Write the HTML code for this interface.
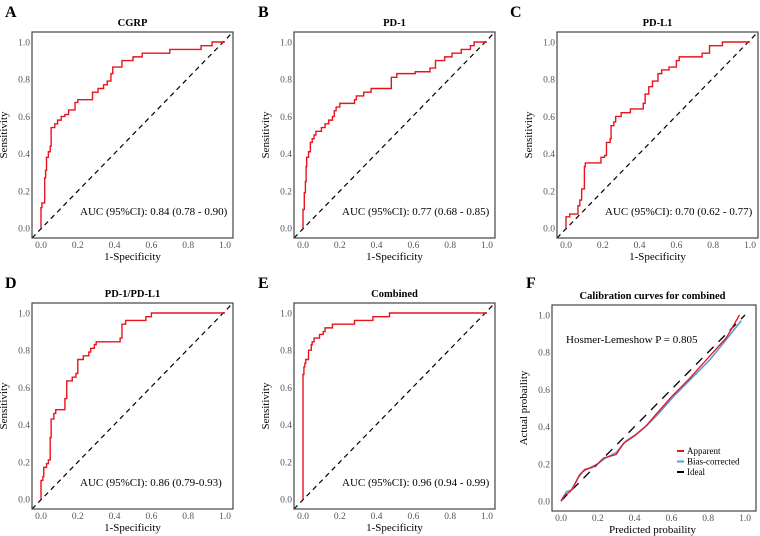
<!DOCTYPE html>
<html><head><meta charset="utf-8"><style>
body{margin:0;background:#fff;}
svg{display:block;font-family:"Liberation Serif",serif;}
</style></head><body>
<svg id="fig" width="760" height="536" viewBox="0 0 760 536" xmlns="http://www.w3.org/2000/svg"></svg>
<script>
const ticks = [0, 0.2, 0.4, 0.6, 0.8, 1.0];
const tickLabels = ["0.0","0.2","0.4","0.6","0.8","1.0"];
const cgrpFpr = [0,0,0.005,0.02,0.025,0.03,0.04,0.05,0.055,0.07,0.075,0.09,0.11,0.13,0.15,0.185,0.2,0.28,0.31,0.34,0.36,0.38,0.39,0.44,0.5,0.55,0.7,0.87,0.93,1];
const cgrpTpr = [0,0.11,0.135,0.27,0.31,0.38,0.41,0.44,0.54,0.54,0.56,0.58,0.6,0.61,0.635,0.675,0.69,0.73,0.75,0.77,0.79,0.83,0.865,0.9,0.92,0.94,0.96,0.98,1,1];
const pd1Fpr = [0,0,0.007,0.013,0.017,0.02,0.03,0.04,0.05,0.06,0.07,0.1,0.12,0.14,0.16,0.17,0.18,0.2,0.28,0.29,0.33,0.37,0.48,0.51,0.61,0.69,0.72,0.77,0.81,0.86,0.91,0.93,1];
const pd1Tpr = [0,0.1,0.19,0.25,0.33,0.38,0.41,0.46,0.48,0.5,0.52,0.54,0.56,0.58,0.6,0.63,0.65,0.67,0.69,0.71,0.73,0.75,0.81,0.83,0.84,0.86,0.9,0.92,0.94,0.96,0.98,1,1];
const pdl1Fpr = [0,0,0.02,0.065,0.075,0.085,0.1,0.105,0.19,0.21,0.22,0.24,0.245,0.26,0.27,0.3,0.35,0.42,0.43,0.45,0.47,0.5,0.52,0.56,0.6,0.615,0.74,0.78,0.85,1];
const pdl1Tpr = [0,0.06,0.075,0.12,0.15,0.21,0.33,0.35,0.38,0.39,0.46,0.48,0.55,0.57,0.6,0.62,0.64,0.67,0.72,0.76,0.79,0.83,0.85,0.865,0.9,0.92,0.94,0.98,1,1];
const pdpdlFpr = [0,0,0.01,0.015,0.03,0.04,0.05,0.055,0.07,0.08,0.13,0.14,0.17,0.19,0.2,0.23,0.26,0.27,0.29,0.3,0.43,0.44,0.46,0.57,0.6,1];
const pdpdlTpr = [0,0.1,0.12,0.17,0.19,0.21,0.33,0.43,0.46,0.48,0.54,0.635,0.655,0.675,0.75,0.77,0.79,0.81,0.83,0.845,0.865,0.94,0.96,0.98,1,1];
const combFpr = [0,0,0.005,0.01,0.015,0.03,0.045,0.05,0.06,0.09,0.11,0.12,0.16,0.28,0.38,0.47,1];
const combTpr = [0,0.67,0.71,0.73,0.75,0.8,0.83,0.845,0.865,0.885,0.9,0.92,0.94,0.96,0.98,1,1];
const appX = [0,0.02,0.05,0.08,0.1,0.13,0.17,0.2,0.23,0.3,0.34,0.4,0.46,0.52,0.6,0.7,0.8,0.9,0.97];
const appY = [0,0.03,0.05,0.1,0.14,0.17,0.18,0.2,0.23,0.25,0.31,0.35,0.4,0.47,0.56,0.66,0.77,0.88,1.0];
const bcX = [0,0.03,0.06,0.09,0.12,0.16,0.2,0.24,0.3,0.35,0.41,0.47,0.53,0.61,0.71,0.81,0.9,0.98];
const bcY = [0,0.05,0.06,0.12,0.16,0.18,0.2,0.23,0.26,0.32,0.36,0.41,0.47,0.56,0.66,0.76,0.87,0.97];
const aucLabels = ["AUC (95%CI): 0.84 (0.78 - 0.90)","AUC (95%CI): 0.77 (0.68 - 0.85)","AUC (95%CI): 0.70 (0.62 - 0.77)","AUC (95%CI): 0.86 (0.79-0.93)","AUC (95%CI): 0.96 (0.94 - 0.99)"];

const NS="http://www.w3.org/2000/svg";
const svg=document.getElementById('fig');
function mk(tag,attrs,parent,text){const e=document.createElementNS(NS,tag);for(const k in attrs)e.setAttribute(k,attrs[k]);if(text!==undefined)e.textContent=text;(parent||svg).appendChild(e);return e;}

const panels=[
 {letter:"A",title:"CGRP",L:32,T:32,lx:5,ly:17,fx:cgrpFpr,fy:cgrpTpr,auc:0},
 {letter:"B",title:"PD-1",L:294,T:32,lx:258,ly:17,fx:pd1Fpr,fy:pd1Tpr,auc:1},
 {letter:"C",title:"PD-L1",L:557,T:32,lx:510,ly:17,fx:pdl1Fpr,fy:pdl1Tpr,auc:2},
 {letter:"D",title:"PD-1/PD-L1",L:32,T:303,lx:5,ly:288,fx:pdpdlFpr,fy:pdpdlTpr,auc:3},
 {letter:"E",title:"Combined",L:294,T:303,lx:258,ly:288,fx:combFpr,fy:combTpr,auc:4},
 {letter:"F",title:"Calibration curves for combined",L:552,T:305,lx:526,ly:288,cal:true}
];
panels.forEach(p=>{
 const W=201,H=206;
 const g=mk('g',{});
 
 
 const sx=v=>p.L+9+v*184, sy=v=>p.T+196-v*186;
 const lt=mk('text',{x:p.lx,y:p.ly,'font-size':16,'font-weight':'bold',fill:'#000'},g,p.letter);
 
 const tt=mk('text',{x:p.L+W/2,y:p.T-6,'font-size':10.5,'font-weight':'bold','text-anchor':'middle'},g,p.title);
 
 ticks.forEach((t,i)=>{
  const a=mk('text',{x:sx(t),y:p.T+H+10,'font-size':9.5,fill:'#555','text-anchor':'middle'},g,tickLabels[i]);
  
  const b=mk('text',{x:p.L-2,y:sy(t)+3.5,'font-size':9.5,fill:'#555','text-anchor':'end'},g,tickLabels[i]);
  
 });
 const xt=mk('text',{x:p.L+W/2,y:p.T+H+22,'font-size':11,'text-anchor':'middle'},g,p.cal?"Predicted probaility":"1-Specificity");
 
 const yx=p.L-25, yy=p.T+H/2;
 const yt=mk('text',{x:yx,y:yy,'font-size':11,'text-anchor':'middle',transform:`rotate(-90 ${yx} ${yy})`},g,p.cal?"Actual probaility":"Sensitivity");
 
 if(!p.cal){
  const dg=mk('line',{x1:p.L,y1:p.T+H,x2:p.L+W,y2:p.T,stroke:'#000','stroke-width':1.2,'stroke-dasharray':'5,4'},g);
  
  let d=`M${sx(p.fx[0])},${sy(p.fy[0])}`;
  for(let i=1;i<p.fx.length;i++){d+=` H${sx(p.fx[i])} V${sy(p.fy[i])}`;}
  const c=mk('path',{d:d,fill:'none',stroke:'#e8141c','stroke-width':1.4},g);
  
  const at=mk('text',{x:p.L+48,y:p.T+183,'font-size':11},g,aucLabels[p.auc]);
  
 } else {
  const id=mk('line',{x1:sx(0),y1:sy(0),x2:sx(1),y2:sy(1),stroke:'#000','stroke-width':1.3,'stroke-dasharray':'9,7'},g);
  
  const bc=mk('polyline',{points:bcX.map((v,i)=>sx(v)+','+sy(bcY[i])).join(' '),fill:'none',stroke:'#5b9bd5','stroke-width':1.6},g);
  
  const ap=mk('polyline',{points:appX.map((v,i)=>sx(v)+','+sy(appY[i])).join(' '),fill:'none',stroke:'#e8141c','stroke-width':1.3},g);
  
  const hl=mk('text',{x:p.L+14,y:p.T+38,'font-size':11},g,"Hosmer-Lemeshow P = 0.805");
  
  const leg=[["Apparent","#e8141c"],["Bias-corrected","#5b9bd5"],["Ideal","#000"]];
  leg.forEach((l,i)=>{
   const lg=mk('g',{},g);
   
   const y=p.T+146+i*10.5;
   mk('line',{x1:p.L+125,y1:y,x2:p.L+132,y2:y,stroke:l[1],'stroke-width':2},lg);
   mk('text',{x:p.L+135,y:y+3,'font-size':9},lg,l[0]);
  });
 }
 const bx=mk('rect',{x:p.L,y:p.T,width:p.cal?204:W,height:H,fill:'none',stroke:'#444','stroke-width':1.2},g);
 
});
</script>
</body></html>
